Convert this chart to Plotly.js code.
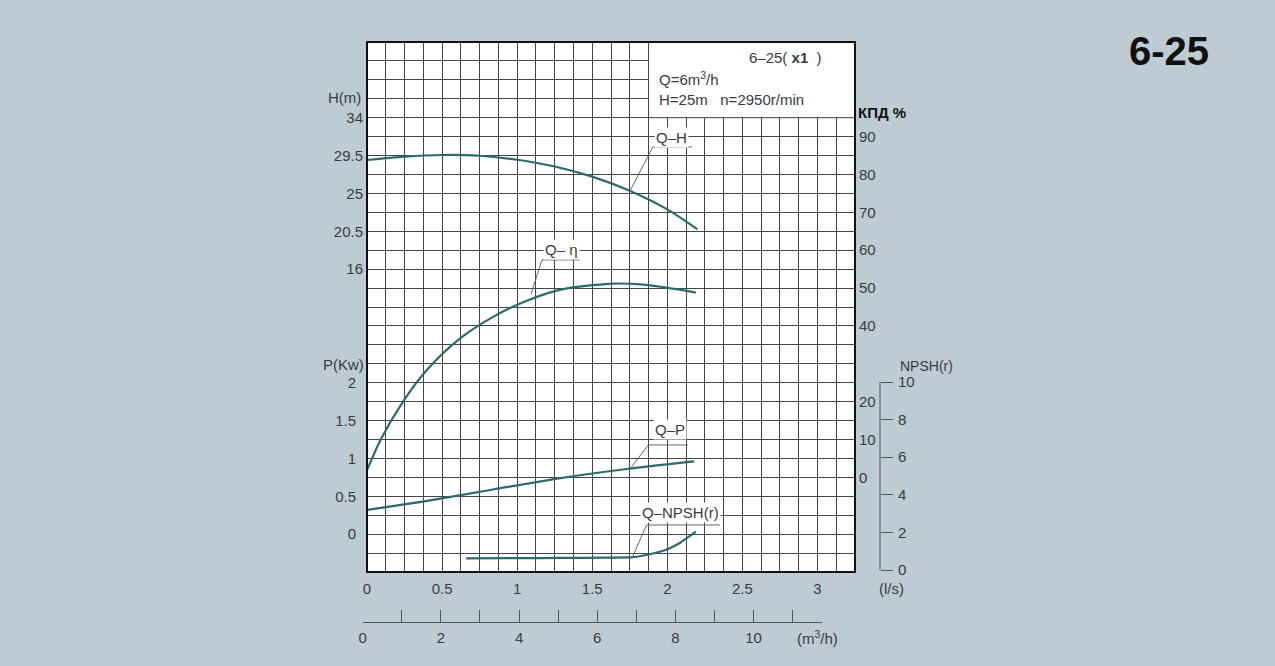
<!DOCTYPE html>
<html><head><meta charset="utf-8">
<script src="https://cdn.plot.ly/plotly-3.0.1.min.js"></script>
<style>html,body{margin:0;padding:0;background:#becbd3;}#chart{width:1275px;height:666px;}</style>
</head><body><div id="chart"></div>
<script>
// ---- data (flow in l/s) ----
const qH    = [0, 0.25, 0.5, 0.75, 1.0, 1.25, 1.5, 1.75, 2.0, 2.2];
const headM = [28.97, 29.37, 29.57, 29.48, 29.0, 28.2, 27.0, 25.32, 23.1, 20.74];

const qEff  = [0, 0.09, 0.24, 0.4, 0.62, 0.84, 1.06, 1.29, 1.51, 1.64, 1.84, 2.06, 2.19];
const effPc = [1.9, 9.9, 20.0, 28.4, 36.7, 42.4, 46.6, 49.6, 50.8, 51.2, 50.9, 49.7, 48.8];

const qP    = [0, 0.4, 0.84, 1.29, 1.73, 2.18];
const powKw = [0.32, 0.44, 0.59, 0.74, 0.86, 0.96];

const qN    = [0.66, 1.0, 1.3, 1.6, 1.77, 1.86, 1.95, 2.02, 2.08, 2.13, 2.19];
const npshM = [0.62, 0.63, 0.64, 0.66, 0.68, 0.80, 0.97, 1.17, 1.42, 1.70, 2.04];

// ---- tick labels ----
const hTicks    = [16, 20.5, 25, 29.5, 34];
const pTicks    = [0, 0.5, 1, 1.5, 2];
const effTicks  = [0, 10, 20, 40, 50, 60, 70, 80, 90];
const npshTicks = [0, 2, 4, 6, 8, 10];

// ---- geometry helpers (pixel -> paper) ----
const PL = 340, PR = 960, PT = 42, PB = 622;
const px = x => (x - PL) / (PR - PL);
const py = y => (PB - y) / (PB - PT);

const curveColor = '#2d6a70';
const gridColor = '#454545';
const txt = '#3a3a3a';
const FONT = 'Liberation Sans, Arial, Helvetica, sans-serif';

const traces = [
  {x: qH, y: headM, xaxis: 'x', yaxis: 'y', mode: 'lines', line: {color: curveColor, width: 2.2, shape: 'spline', smoothing: 0.8}, hoverinfo: 'skip'},
  {x: qEff, y: effPc, xaxis: 'x', yaxis: 'y3', mode: 'lines', line: {color: curveColor, width: 2.2, shape: 'spline', smoothing: 0.8}, hoverinfo: 'skip'},
  {x: qP, y: powKw, xaxis: 'x', yaxis: 'y2', mode: 'lines', line: {color: curveColor, width: 2.2, shape: 'spline', smoothing: 0.8}, hoverinfo: 'skip'},
  {x: qN, y: npshM, xaxis: 'x', yaxis: 'y4', mode: 'lines', line: {color: curveColor, width: 2.2, shape: 'spline', smoothing: 0.6}, hoverinfo: 'skip'},
  // empty trace so that the m3/h scale subplot exists
  {x: [], y: [], xaxis: 'x2', yaxis: 'y6', mode: 'lines', hoverinfo: 'skip'}
];

// NPSH scale: 0 at y=570, 10 at y=382 (pixels)
const npshPerPx = 10 / (570 - 382);
const npshRange = [-(572 - 570) * npshPerPx, (570 - 42) * npshPerPx];

// leader lines (data coords: x in l/s, y in H axis units)
const leaders = [
  [[1.751, 25.29], [1.904, 30.52], [2.164, 30.52]],
  [[1.092, 13.0], [1.165, 17.09], [1.418, 17.09]],
  [[1.762, -7.51], [1.873, -4.90], [2.137, -4.90]],
  [[1.769, -18.18], [1.862, -14.41], [2.350, -14.41]]
];
const curveLabels = [
  {text: 'Q–H', x: 2.03, y: 31.6},
  {text: 'Q– η', x: 1.292, y: 18.3},
  {text: 'Q–P', x: 2.017, y: -3.12},
  {text: 'Q–NPSH(r)', x: 2.087, y: -12.98}
];

const shapes = [
  {type: 'rect', xref: 'x domain', yref: 'y domain', x0: 0, x1: 1, y0: 0, y1: 1, fillcolor: '#ffffff', line: {width: 0}, layer: 'below'},
  {type: 'rect', xref: 'x', yref: 'y', x0: 1.875, x1: 3.25, y0: 34, y1: 43, fillcolor: '#ffffff', line: {color: gridColor, width: 1}, layer: 'above'},
  {type: 'rect', xref: 'x domain', yref: 'y domain', x0: 0, x1: 1, y0: 0, y1: 1, fillcolor: 'rgba(0,0,0,0)', line: {color: '#111', width: 2}, layer: 'above'},
  {type: 'line', xref: 'paper', yref: 'y4', x0: px(880), x1: px(880), y0: 0, y1: 10, line: {color: '#555', width: 1}}
];
leaders.forEach(pts => {
  const d = 'M' + pts.map(p => p[0] + ',' + p[1]).join(' L');
  shapes.push({type: 'path', xref: 'x', yref: 'y', path: d, line: {color: '#666', width: 1}, layer: 'above'});
});

function ann(text, x, y, xanchor, size, color) {
  return {text: text, xref: 'paper', yref: 'paper', x: px(x), y: py(y), xanchor: xanchor || 'center', yanchor: 'middle',
          showarrow: false, font: {size: size || 15, color: color || txt, family: FONT}};
}
const annotations = [
  ann('<b>6-25</b>', 1169, 51, 'center', 40, '#111'),
  ann('6–25( <b>x1</b>  )', 747, 57, 'left'),
  ann('Q=6m<sup>3</sup>/h', 657, 78, 'left'),
  ann('H=25m\u00a0\u00a0\u00a0n=2950r/min', 657, 99, 'left'),
  ann('H(m)', 363, 98, 'right'),
  ann('P(Kw)', 366, 364, 'right'),
  ann('<b>КПД %</b>', 856, 112, 'left', 15, '#111'),
  ann('NPSH(r)', 926, 366, 'center', 14),
  ann('(l/s)', 891, 588, 'center'),
  ann('(m<sup>3</sup>/h)', 817, 637, 'center')
];
curveLabels.forEach(c => annotations.push({text: c.text, xref: 'x', yref: 'y', x: c.x, y: c.y, xanchor: 'center', yanchor: 'middle',
  showarrow: false, bgcolor: '#ffffff', borderpad: 1, font: {size: 15, color: txt, family: FONT}}));

const layout = {
  width: 1275, height: 666,
  margin: {l: PL, r: 1275 - PR, t: PT, b: 666 - PB, pad: 0},
  paper_bgcolor: '#becbd3', plot_bgcolor: 'rgba(0,0,0,0)',
  showlegend: false,
  font: {family: FONT, size: 15, color: txt},
  xaxis: {
    domain: [px(367), px(855)], range: [0, 3.25], anchor: 'y',
    tickmode: 'linear', tick0: 0, dtick: 0.5,
    showgrid: true, gridcolor: gridColor, gridwidth: 1,
    minor: {dtick: 0.125, showgrid: true, gridcolor: gridColor, gridwidth: 1},
    zeroline: false, showline: false, ticks: '', ticklabelstandoff: 6, fixedrange: true
  },
  xaxis2: {
    domain: [px(362.7), px(822)], range: [0, 11.75], anchor: 'y6', side: 'bottom',
    tickmode: 'linear', tick0: 0, dtick: 1, ticklabelstep: 2,
    ticks: 'inside', ticklen: 12, tickcolor: '#555', tickwidth: 1,
    showline: true, linecolor: '#555', linewidth: 1, showgrid: false, zeroline: false,
    ticklabelstandoff: 2, fixedrange: true
  },
  yaxis: {
    domain: [py(572), 1], range: [-20, 43], anchor: 'x',
    tickmode: 'array', tickvals: hTicks,
    showgrid: false,
    minor: {tick0: 34, dtick: 2.25, showgrid: true, gridcolor: gridColor, gridwidth: 1},
    zeroline: false, showline: false, ticks: '', ticklabelstandoff: 3, fixedrange: true
  },
  yaxis2: {
    overlaying: 'y', side: 'left', anchor: 'x', range: [-0.5, 6.5],
    tickmode: 'array', tickvals: pTicks, showgrid: false, zeroline: false, showline: false,
    ticks: '', ticklabelstandoff: 10, fixedrange: true
  },
  yaxis3: {
    overlaying: 'y', side: 'right', anchor: 'x', range: [-25, 115],
    tickmode: 'array', tickvals: effTicks, showgrid: false, zeroline: false, showline: false,
    ticks: '', ticklabelstandoff: 3, fixedrange: true
  },
  yaxis4: {
    overlaying: 'y', side: 'right', anchor: 'free', position: px(880), range: npshRange,
    tickmode: 'array', tickvals: npshTicks, showgrid: false, zeroline: false, showline: false,
    ticks: 'outside', ticklen: 12, tickcolor: '#555', tickwidth: 1, ticklabelstandoff: 2, fixedrange: true
  },
  yaxis6: {domain: [0, 0.01], anchor: 'x2', range: [0, 1], showgrid: false, zeroline: false, showline: false,
           showticklabels: false, ticks: '', fixedrange: true},
  shapes: shapes,
  annotations: annotations
};

Plotly.newPlot('chart', traces, layout, {displayModeBar: false, staticPlot: true});
</script>
</body></html>
